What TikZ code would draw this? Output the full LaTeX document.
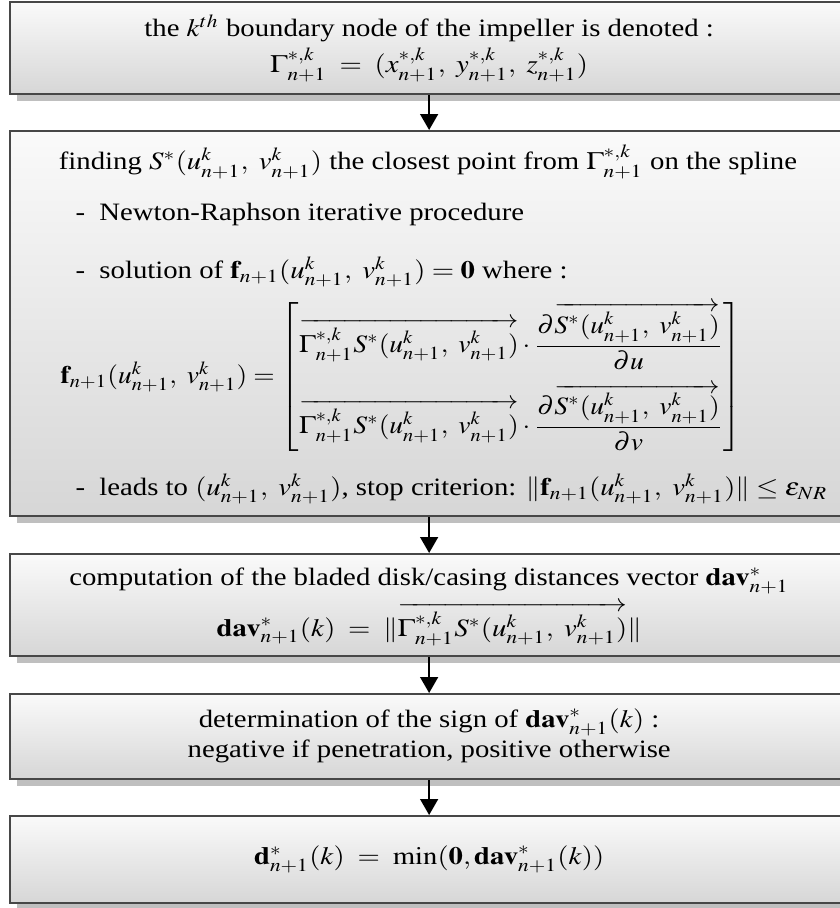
\documentclass[tikz,border=0pt]{standalone}
\usepackage{amsmath}
\usepackage{mathptmx}
\usepackage{fontspec}
\setmainfont{Liberation Serif}
\usetikzlibrary{arrows.meta,shadows}
\newcommand{\uvk}{u^k_{n+1},\ v^k_{n+1}}
\newcommand{\hs}[1]{\scalebox{1.15}[1]{#1}}
\begin{document}
\begin{tikzpicture}[x=0.4pt,y=-0.4pt,
  flowbox/.style={draw=black!72, line width=0.9pt, top color=black!2, bottom color=black!16,
    drop shadow={shadow xshift=2.8pt, shadow yshift=-2.8pt, fill=black!25, opacity=1},
    inner sep=0pt, minimum width=335.2pt, anchor=north west, align=center,
    font=\fontsize{10}{12}\selectfont},
  flow/.style={-{Triangle[length=6.4pt,width=7.2pt]}, line width=0.6pt},
  txt/.style={inner sep=0pt, font=\fontsize{10}{12}\selectfont}]
\useasboundingbox (0,0) rectangle (840,908);
\clip (0,0) rectangle (840,908);
% box 1
\node[flowbox, minimum height=36.8pt] (b1) at (9,1)
  {\hs{\begin{tabular}{@{}c@{}}the $k^{th}$ boundary node of the impeller is denoted :\\[1pt]
   $\Gamma^{*,k}_{n+1} \;=\; (x^{*,k}_{n+1},\ y^{*,k}_{n+1},\ z^{*,k}_{n+1})$\end{tabular}}};
% box 2
\node[flowbox, minimum height=154pt] (b2) at (9,130) {};
\node[txt] (t21) at (428,162) {\hs{finding $S^*(\uvk)$ the closest point from $\Gamma^{*,k}_{n+1}$ on the spline}};
\node[txt, anchor=west] (t22) at (75,214) {\hs{-\ \ Newton-Raphson iterative procedure}};
\node[txt, anchor=west] (t23) at (75,272) {\hs{-\ \ solution of $\mathbf{f}_{n+1}(\uvk) = \mathbf{0}$ where :}};
\node[txt] (t24) at (401,377) {\scalebox{1.1}[1]{$\mathbf{f}_{n+1}(\uvk) = \begin{bmatrix}
  \overrightarrow{\Gamma^{*,k}_{n+1}S^*(\uvk)}\cdot\dfrac{\partial\overrightarrow{S^*(\uvk)}}{\partial u}\\[9pt]
  \overrightarrow{\Gamma^{*,k}_{n+1}S^*(\uvk)}\cdot\dfrac{\partial\overrightarrow{S^*(\uvk)}}{\partial v}
  \end{bmatrix}$}};
\node[txt, anchor=west] (t25) at (75,489) {\hs{-\ \ leads to $(\uvk)$, stop criterion: $\|\mathbf{f}_{n+1}(\uvk)\| \le \varepsilon_{NR}$}};
% box 3
\node[flowbox, minimum height=40.8pt] (b3) at (9,553)
  {\hs{\begin{tabular}{@{}c@{}}computation of the bladed disk/casing distances vector $\mathbf{dav}^*_{n+1}$\\[3pt]
   $\mathbf{dav}^*_{n+1}(k) \;=\; \|\overrightarrow{\Gamma^{*,k}_{n+1}S^*(\uvk)}\|$\end{tabular}}};
% box 4
\node[flowbox, minimum height=34pt] (b4) at (9,693)
  {\hs{\begin{tabular}{@{}c@{}}determination of the sign of $\mathbf{dav}^*_{n+1}(k)$ :\\
   negative if penetration, positive otherwise\end{tabular}}};
% box 5
\node[flowbox, minimum height=34.8pt] (b5) at (9,815)
  {\hs{$\mathbf{d}^*_{n+1}(k) \;=\; \min(\mathbf{0},\mathbf{dav}^*_{n+1}(k))$}};
% arrows
\draw[flow] (b1.south) -- (b2.north);
\draw[flow] (b2.south) -- (b3.north);
\draw[flow] (b3.south) -- (b4.north);
\draw[flow] (b4.south) -- (b5.north);
\end{tikzpicture}
\end{document}
